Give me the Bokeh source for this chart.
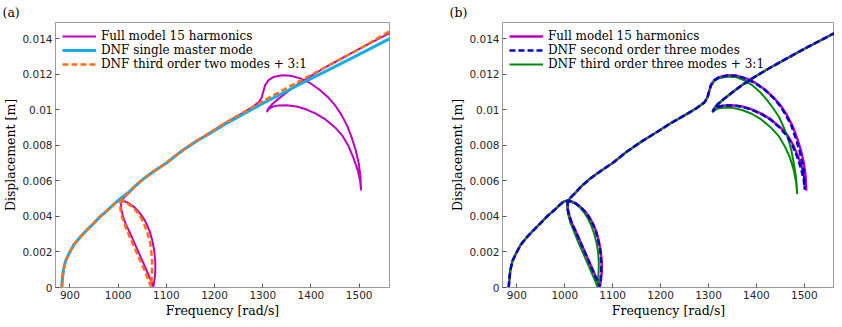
from bokeh.plotting import figure
from bokeh.layouts import row
from bokeh.models import FixedTicker, Legend, LegendItem, Range1d
from bokeh.embed import file_html
from bokeh.resources import INLINE

# ---------------- data ----------------
x_ticks = [900, 1000, 1100, 1200, 1300, 1400, 1500]
x_tick_labels = ["900", "1000", "1100", "1200", "1300", "1400", "1500"]
y_ticks = [0.0, 0.002, 0.004, 0.006, 0.008, 0.01, 0.012, 0.014]
y_tick_labels = ["0", "0.002", "0.004", "0.006", "0.008", "0.01", "0.012", "0.014"]

# Full model 15 harmonics (same in both panels)
full_x = [883, 884, 886.5, 891, 898, 908, 920, 934, 949, 963, 976, 988, 997, 1005, 1013,
          1022, 1032, 1042, 1051, 1059, 1066, 1071, 1075, 1077, 1077, 1075, 1073,
          1068, 1060, 1051, 1042, 1033, 1024, 1016, 1010, 1006.5, 1006, 1007.5,
          1013, 1022, 1035, 1052, 1075, 1100, 1130, 1160, 1190, 1220, 1250, 1275, 1292,
          1298, 1301, 1305, 1312, 1322, 1340, 1358, 1378, 1398, 1418, 1436, 1450, 1463,
          1475, 1485, 1493, 1499, 1502.5, 1504,
          1502, 1497, 1488, 1477, 1465, 1450, 1430, 1410, 1390, 1370, 1350, 1333, 1320,
          1313, 1309,
          1312, 1320, 1333, 1350, 1370, 1395, 1425, 1460, 1500, 1540, 1570]
full_y = [0.0, 0.0004, 0.0010, 0.0015, 0.0019, 0.0024, 0.0028, 0.0032, 0.0036, 0.0040, 0.0043,
          0.0046, 0.00482, 0.00488, 0.00485,
          0.00474, 0.00455, 0.00428, 0.00396, 0.00358, 0.00312, 0.00262, 0.00205, 0.00145,
          0.00085, 0.00035, 0.00005,
          0.0004, 0.0009, 0.00145, 0.0020, 0.00255, 0.0031, 0.00355, 0.0040, 0.0044, 0.0047,
          0.0049,
          0.00508, 0.00532, 0.0057, 0.0061, 0.00655, 0.0070, 0.00765, 0.0082, 0.0087,
          0.00922, 0.00968, 0.01008, 0.01042,
          0.0107, 0.0110, 0.01138, 0.01166, 0.01183, 0.01193, 0.01191, 0.01176, 0.01150,
          0.01112, 0.01068, 0.01025, 0.00972, 0.0091, 0.0084, 0.0077, 0.0070, 0.0063, 0.0055,
          0.0060, 0.0066, 0.0073, 0.0080, 0.00855, 0.0090, 0.00945, 0.00978, 0.01002,
          0.01018, 0.01025, 0.01024, 0.01016, 0.01004, 0.0099,
          0.01008, 0.01032, 0.01062, 0.01098, 0.01138, 0.01182, 0.01230, 0.01283, 0.01342,
          0.01398, 0.01440]

# (a) DNF single master mode
single_x = [883, 884, 886.5, 891, 898, 908, 920, 934, 949, 963, 976, 988, 998, 1010, 1022,
            1035, 1052, 1075, 1100, 1130, 1160, 1190, 1220, 1250, 1300, 1350, 1400, 1450,
            1500, 1570]
single_y = [0.0, 0.0004, 0.0010, 0.0015, 0.0019, 0.0024, 0.0028, 0.0032, 0.0036, 0.0040,
            0.0043, 0.0046, 0.00485, 0.00512, 0.00535, 0.0057, 0.0061, 0.00655, 0.0070,
            0.00763, 0.00818, 0.00866, 0.00915, 0.0096, 0.01035, 0.01105, 0.01174, 0.01242,
            0.01311, 0.01408]

# (a) DNF third order two modes + 3:1
two_x = [883, 884, 886.5, 891, 898, 908, 920, 934, 949, 963, 976, 988, 997, 1005, 1012,
         1021, 1031, 1040, 1048, 1055, 1061, 1066, 1069, 1070.5, 1070, 1069, 1068,
         1063, 1055, 1046, 1037, 1028, 1020, 1012, 1006.5, 1004.5, 1005, 1007,
         1013, 1022, 1035, 1052, 1075, 1100, 1130, 1160, 1190, 1220, 1250, 1300, 1350,
         1400, 1450, 1500, 1570]
two_y = [0.0, 0.0004, 0.0010, 0.0015, 0.0019, 0.0024, 0.0028, 0.0032, 0.0036, 0.0040, 0.0043,
         0.0046, 0.00482, 0.00487, 0.00482,
         0.0047, 0.0045, 0.00422, 0.0039, 0.0035, 0.00305, 0.00255, 0.0020, 0.0014, 0.0008,
         0.0003, 0.00005,
         0.0004, 0.00095, 0.0015, 0.00205, 0.0026, 0.0031, 0.00365, 0.0041, 0.0045, 0.0048,
         0.00495,
         0.0051, 0.00533, 0.0057, 0.0061, 0.00655, 0.0070, 0.00765, 0.0082, 0.0087, 0.00922,
         0.0097, 0.01048, 0.01122, 0.01195, 0.01268, 0.0134, 0.01452]

# (b) DNF second order three modes
second_x = [883, 884, 886.5, 891, 898, 908, 920, 934, 949, 963, 976, 988, 997, 1005, 1013,
            1022, 1032, 1042, 1051, 1059, 1065.5, 1070, 1074, 1076, 1076, 1074.5, 1073,
            1067.5, 1059.5, 1050.5, 1041.5, 1032.5, 1023.5, 1015.5, 1009.5, 1006, 1006, 1007.5,
            1013, 1022, 1035, 1052, 1075, 1100, 1130, 1160, 1190, 1220, 1250, 1275, 1292,
            1298, 1301, 1305, 1312, 1322, 1340, 1358, 1378, 1398, 1418, 1436, 1450, 1462,
            1473, 1482, 1490, 1496, 1499.5, 1501,
            1499, 1494, 1486, 1475, 1463, 1448, 1429, 1409, 1389, 1369, 1350, 1333, 1320,
            1313, 1309,
            1312, 1320, 1333, 1350, 1370, 1395, 1425, 1460, 1500, 1540, 1570]
second_y = [0.0, 0.0004, 0.0010, 0.0015, 0.0019, 0.0024, 0.0028, 0.0032, 0.0036, 0.0040,
            0.0043, 0.0046, 0.00482, 0.00488, 0.00485,
            0.00474, 0.00455, 0.00427, 0.00394, 0.00355, 0.0031, 0.0026, 0.00205, 0.00145,
            0.00085, 0.00035, 0.00005,
            0.0004, 0.0009, 0.00145, 0.0020, 0.00255, 0.0031, 0.00355, 0.0040, 0.0044, 0.0047,
            0.0049,
            0.00508, 0.00532, 0.0057, 0.0061, 0.00655, 0.0070, 0.00765, 0.0082, 0.0087,
            0.00922, 0.00968, 0.01008, 0.01042,
            0.0107, 0.0110, 0.01137, 0.01165, 0.01182, 0.01192, 0.0119, 0.01175, 0.01148,
            0.0111, 0.01065, 0.0102, 0.00968, 0.0091, 0.0084, 0.0077, 0.0070, 0.0063, 0.0055,
            0.0060, 0.0066, 0.0073, 0.0080, 0.00855, 0.0090, 0.00945, 0.00977, 0.01001,
            0.01017, 0.01024, 0.01023, 0.01015, 0.01003, 0.0099,
            0.01008, 0.01032, 0.01062, 0.01098, 0.01138, 0.01182, 0.01230, 0.01283, 0.01342,
            0.01398, 0.01440]

# (b) DNF third order three modes + 3:1
third_x = [883, 884, 886.5, 891, 898, 908, 920, 934, 949, 963, 976, 988, 997, 1005, 1012,
           1021, 1031, 1040, 1048, 1055, 1061, 1066, 1069.5, 1071, 1070.5, 1069, 1068,
           1063, 1055, 1046, 1037, 1028, 1020, 1012, 1007, 1005, 1005.5, 1007.5,
           1013, 1022, 1035, 1052, 1075, 1100, 1130, 1160, 1190, 1220, 1250, 1275, 1292,
           1298, 1301, 1305, 1312, 1322, 1340, 1358, 1375, 1392, 1408, 1422, 1435, 1447,
           1457, 1466, 1473, 1478, 1482, 1484, 1485,
           1483, 1478, 1470, 1460, 1447, 1430, 1410, 1390, 1370, 1350, 1333, 1320, 1313, 1309,
           1312, 1320, 1333, 1350, 1370, 1395, 1425, 1460, 1500, 1540, 1570]
third_y = [0.0, 0.0004, 0.0010, 0.0015, 0.0019, 0.0024, 0.0028, 0.0032, 0.0036, 0.0040,
           0.0043, 0.0046, 0.00482, 0.00487, 0.00482,
           0.00472, 0.00452, 0.00424, 0.0039, 0.0035, 0.00305, 0.00255, 0.0020, 0.0014,
           0.0008, 0.0003, 0.00005,
           0.0004, 0.0009, 0.00145, 0.0020, 0.00255, 0.0031, 0.00362, 0.0041, 0.0045, 0.0048,
           0.0049,
           0.00508, 0.00532, 0.0057, 0.0061, 0.00655, 0.0070, 0.00765, 0.0082, 0.0087,
           0.00922, 0.00968, 0.01008, 0.01042,
           0.0107, 0.01098, 0.01133, 0.0116, 0.01177, 0.01186, 0.01182, 0.01165, 0.01136,
           0.01098, 0.01055, 0.01008, 0.0096, 0.0090, 0.0084, 0.0077, 0.0070, 0.0063, 0.0058,
           0.0053,
           0.0059, 0.0066, 0.0073, 0.0079, 0.0085, 0.0090, 0.00945, 0.00977, 0.00998, 0.0101,
           0.01012, 0.01007, 0.00998, 0.0099,
           0.01008, 0.01032, 0.01062, 0.01098, 0.01138, 0.01182, 0.01230, 0.01283, 0.01342,
           0.01398, 0.01440]

legend_a = ["Full model 15 harmonics", "DNF single master mode",
            "DNF third order two modes + 3:1"]
legend_b = ["Full model 15 harmonics", "DNF second order three modes",
            "DNF third order three modes + 3:1"]

MAGENTA = "#bf00bf"
CYAN = "#14aef0"
ORANGE = "#ff7010"
BLUE = "#0000c8"
GREEN = "#008a0a"
FRAME = "#9a9a9a"
SERIF = "DejaVu Serif"
SANS = "DejaVu Sans"


def make_fig(fw, left, right, tag):
    p = figure(frame_width=fw, frame_height=265, output_backend="svg", toolbar_location=None,
               x_range=Range1d(870, 1563), y_range=Range1d(0, 0.0149),
               min_border_left=left, min_border_right=right,
               min_border_top=14, min_border_bottom=31, title=tag)
    p.title.align = "left"
    p.title.offset = -53
    p.title.standoff = 5
    p.title.text_font = SERIF
    p.title.text_font_size = "12.5px"
    p.title.text_font_style = "normal"
    p.title.text_color = "#000000"
    p.xgrid.visible = False
    p.ygrid.visible = False
    p.outline_line_color = FRAME
    p.outline_line_width = 1
    p.background_fill_color = "white"
    p.border_fill_color = "white"
    p.xaxis.ticker = FixedTicker(ticks=x_ticks)
    p.xaxis.major_label_overrides = dict(zip(x_ticks, x_tick_labels))
    p.yaxis.ticker = FixedTicker(ticks=y_ticks)
    p.yaxis.major_label_overrides = dict(zip(y_ticks, y_tick_labels))
    p.xaxis.axis_label = "Frequency [rad/s]"
    p.yaxis.axis_label = "Displacement [m]"
    for ax in (p.xaxis[0], p.yaxis[0]):
        ax.major_tick_in = 4
        ax.major_tick_out = 0
        ax.minor_tick_line_color = None
        ax.axis_line_color = FRAME
        ax.major_tick_line_color = "#555555"
        ax.major_label_text_font = SANS
        ax.major_label_text_font_size = "10.5px"
        ax.major_label_text_color = "#262626"
        ax.major_label_standoff = 3
        ax.axis_label_text_font = SERIF
        ax.axis_label_text_font_size = "12.5px"
        ax.axis_label_text_font_style = "normal"
        ax.axis_label_text_color = "#000000"
        ax.axis_label_standoff = 1
    return p


def add_legend(p, items):
    leg = Legend(items=items, location="top_left", margin=4, padding=3,
                 spacing=0, glyph_width=34, glyph_height=12, label_height=12,
                 label_standoff=5, label_text_font=SERIF, label_text_font_size="12px",
                 label_text_line_height=1.0,
                 label_text_color="#000000", background_fill_alpha=0,
                 border_line_alpha=0)
    p.add_layout(leg)


# ---------------- panel (a) ----------------
p1 = make_fig(334, 47, 56, "(a)")
r_full_a = p1.line(full_x, full_y, line_color=MAGENTA, line_width=2, line_join="round")
r_single = p1.line(single_x, single_y, line_color=CYAN, line_width=3, line_join="round")
r_two = p1.line(two_x, two_y, line_color=ORANGE, line_width=2.5, line_dash="6 3")
add_legend(p1, [LegendItem(label=legend_a[0], renderers=[r_full_a]),
                LegendItem(label=legend_a[1], renderers=[r_single]),
                LegendItem(label=legend_a[2], renderers=[r_two])])

# ---------------- panel (b) ----------------
p2 = make_fig(332, 57, 0, "(b)")
r_full_b = p2.line(full_x, full_y, line_color=MAGENTA, line_width=2.5, line_join="round")
r_third = p2.line(third_x, third_y, line_color=GREEN, line_width=2, line_join="round")
r_second = p2.line(second_x, second_y, line_color=BLUE, line_width=2.5, line_dash="6 3")
add_legend(p2, [LegendItem(label=legend_b[0], renderers=[r_full_b]),
                LegendItem(label=legend_b[1], renderers=[r_second]),
                LegendItem(label=legend_b[2], renderers=[r_third])])

layout = row(p1, p2)
open("out.html", "w").write(file_html(layout, INLINE))
